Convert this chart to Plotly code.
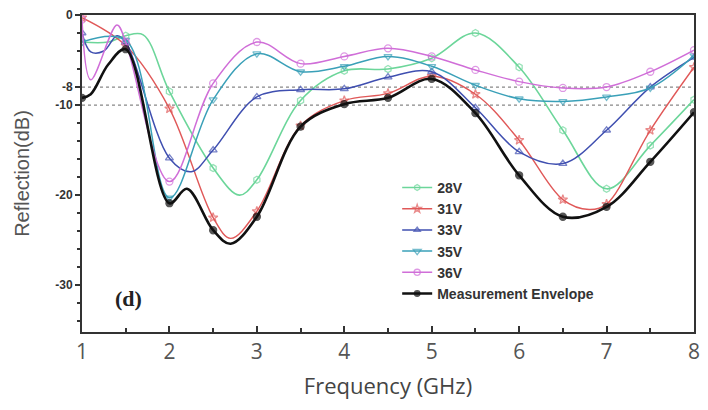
import plotly.graph_objects as go

# ---- data ----
f_28 = [1, 1.3, 1.5, 1.7, 2, 2.5, 2.8, 3, 3.5, 4, 4.5, 5, 5.5, 6, 6.5, 7, 7.5, 8]
v_28 = [-3, -3, -2.3, -2.2, -8.5, -17, -20, -18.3, -9.5, -6.2, -6, -4.8, -2, -5.8, -12.8, -19.3, -14.5, -9.4]

f_31 = [1, 1.5, 2, 2.5, 2.7, 3, 3.5, 4, 4.5, 5, 5.5, 6, 6.5, 6.8, 7, 7.5, 8]
v_31 = [-0.3, -3.4, -10.4, -22.5, -24.8, -21.8, -12.3, -9.5, -8.7, -6.8, -8.8, -13.9, -20.5, -21.6, -21, -12.8, -5.8]

f_33 = [1, 1.1, 1.25, 1.4, 1.5, 2, 2.25, 2.5, 3, 3.5, 4, 4.5, 5, 5.5, 6, 6.5, 7, 7.5, 8]
v_33 = [-2, -4.1, -4, -2.3, -3, -15.9, -17.4, -15, -9.1, -8.3, -8.2, -6.9, -6.3, -10.3, -15.2, -16.5, -12.8, -8, -4.7]

f_35 = [1, 1.5, 2, 2.5, 3, 3.5, 4, 4.5, 5, 5.5, 6, 6.5, 7, 7.5, 8]
v_35 = [-3, -2.8, -20.3, -9.4, -4.3, -6.3, -5.7, -4.6, -5.7, -7.8, -9.3, -9.6, -9.1, -8.1, -4.5]

f_36 = [1, 1.1, 1.4, 1.5, 2, 2.5, 3, 3.5, 4, 4.5, 5, 5.5, 6, 6.5, 7, 7.5, 8]
v_36 = [-0.5, -7.2, -1.1, -3, -18.5, -7.6, -3, -5.4, -4.6, -3.7, -4.6, -6.1, -7.4, -8.1, -8, -6.3, -3.9]

f_env = [1, 1.1, 1.3, 1.5, 2, 2.2, 2.5, 2.7, 3, 3.5, 4, 4.5, 5, 5.5, 6, 6.5, 7, 7.5, 8]
v_env = [-9.2, -8.8, -5.5, -3.8, -20.9, -19.3, -23.9, -25.4, -22.4, -12.4, -9.9, -9.2, -7.1, -10.9, -17.8, -22.4, -21.3, -16.3, -10.8]

names = ["28V", "31V", "33V", "35V", "36V", "Measurement Envelope"]
y_tick_vals = [0, -8, -10, -20, -30]
y_tick_text = ["0", "-8", "-10", "-20", "-30"]
x_tick_vals = [1, 2, 3, 4, 5, 6, 7, 8]
ref_levels = [-8, -10]

series = [
    (f_28, v_28, "#6cd69a", "hexagon-open", 1.6),
    (f_31, v_31, "#e05858", "star-open", 1.4),
    (f_33, v_33, "#3f4fb0", "triangle-up-open", 1.5),
    (f_35, v_35, "#3aa0b8", "triangle-down-open", 1.5),
    (f_36, v_36, "#d06ed8", "circle-open", 1.5),
    (f_env, v_env, "#111111", "circle", 2.6),
]

fig = go.Figure()
for (fx, vy, col, sym, lw), nm in zip(series, names):
    sizes = [7 if abs(x * 2 - round(x * 2)) < 1e-9 else 0 for x in fx]
    fig.add_trace(go.Scatter(
        x=fx, y=vy, name="<b>%s</b>" % nm, mode="lines+markers",
        line=dict(color=col, width=lw, shape="spline", smoothing=1.0),
        marker=dict(symbol=sym, size=sizes, color=col,
                    line=dict(color=col, width=1.3)),
    ))

for lv in ref_levels:
    fig.add_shape(type="line", xref="paper", x0=0, x1=1, yref="y", y0=lv, y1=lv,
                  line=dict(color="#888888", width=1.3, dash="dot"), layer="below")

fig.add_annotation(x=1.35, y=-31.5, xref="x", yref="y", text="<b>(d)</b>",
                   showarrow=False, xanchor="left",
                   font=dict(family="Liberation Serif", size=22, color="#222"))

fig.update_layout(
    width=708, height=410,
    margin=dict(l=82, r=8, t=15, b=78),
    paper_bgcolor="white", plot_bgcolor="white",
    showlegend=True,
    legend=dict(x=0.515, y=0.505, xanchor="left", yanchor="top",
                bgcolor="rgba(0,0,0,0)",
                font=dict(family="Liberation Sans", size=14, color="#333"),
                itemwidth=30, tracegroupgap=0),
    font=dict(family="Liberation Sans"),
)

fig.update_xaxes(
    range=[1, 8], tickvals=x_tick_vals, ticks="inside", ticklen=6, tickwidth=1.5,
    tickcolor="#333", showline=True, linecolor="#333", linewidth=2, mirror=True,
    showgrid=False, zeroline=False,
    tickfont=dict(family="Open Sans", size=21, color="#555"),
    minor=dict(dtick=0.5, ticks="inside", ticklen=4, tickcolor="#333"),
    title=dict(text="Frequency (GHz)", font=dict(family="Open Sans", size=22, color="#444"), standoff=14),
)
fig.update_yaxes(
    range=[-35.2, 0], tickvals=y_tick_vals, ticktext=["<b>%s</b>" % t for t in y_tick_text],
    ticks="outside", ticklen=5, tickwidth=1.5, tickcolor="#333",
    showline=True, linecolor="#333", linewidth=2, mirror=True,
    showgrid=False, zeroline=False,
    tickfont=dict(family="Liberation Sans", size=12, color="#333"),
    minor=dict(dtick=2, ticks="outside", ticklen=3, tickcolor="#333"),
    title=dict(text="Reflection(dB)", font=dict(family="Liberation Sans", size=20, color="#555"), standoff=20),
)

fig.write_html("out.html")
